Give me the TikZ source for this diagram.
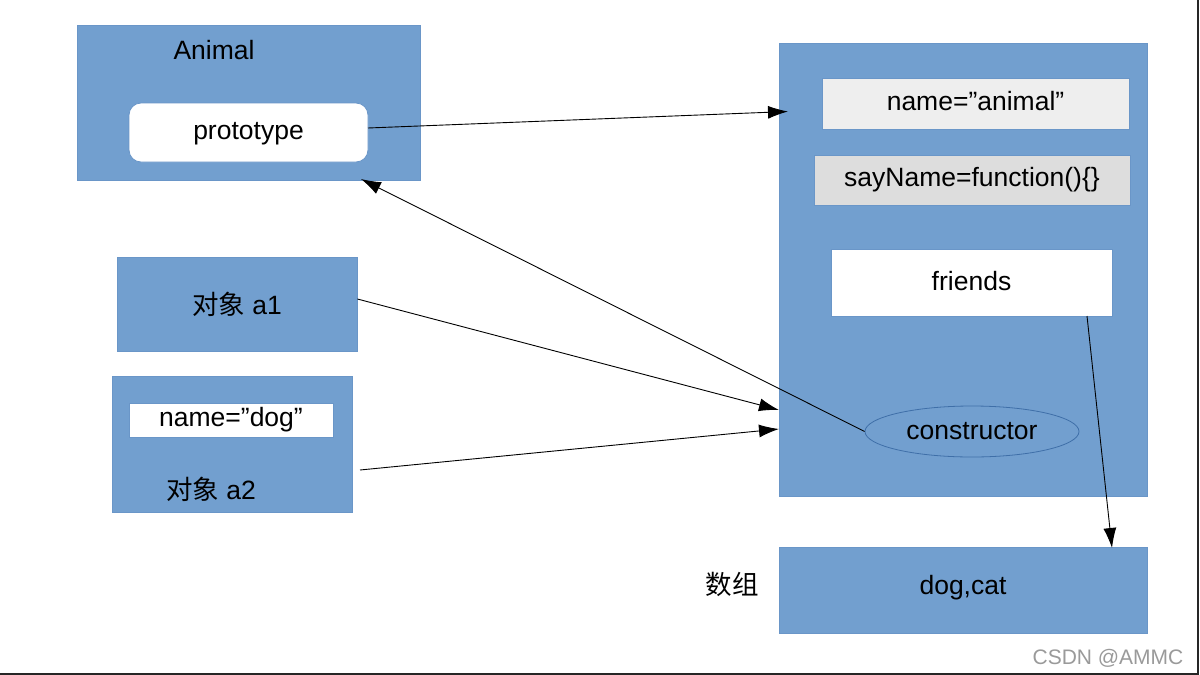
\documentclass[tikz,border=0pt]{standalone}
\usepackage{fontspec}
\setmainfont{Liberation Sans}
\newfontfamily\cjk{Noto Sans CJK SC}
\usetikzlibrary{shapes.geometric,arrows.meta}
\definecolor{boxblue}{HTML}{729FCF}
\definecolor{boxedge}{HTML}{6A96C8}
\definecolor{elledge}{HTML}{3F6FA8}
\definecolor{lightgray}{HTML}{EEEEEE}
\definecolor{midgray}{HTML}{DDDDDD}
\definecolor{wm}{HTML}{9A9A9A}
\tikzset{
  bluebox/.style={rectangle, fill=boxblue, draw=boxedge, line width=0.8pt, inner sep=0pt},
  innerbox/.style={rectangle, draw=boxedge, line width=0.8pt, inner sep=0pt},
  txt/.style={font=\fontsize{26.5}{30}\selectfont, text=black},
  arr/.style={-{Latex[length=20pt,width=13pt]}, line width=0.9pt, black},
}
\newcommand{\zh}[1]{{\cjk #1}}
\begin{document}
\begin{tikzpicture}[x=1pt,y=-1pt]
\useasboundingbox (0,0) rectangle (1200,675);
\fill[white] (0,0) rectangle (1200,675);
% frame lines
\draw[line width=2pt, black!85] (0,673.5) -- (1197.5,673.5) -- (1197.5,0);

% Animal
\node[bluebox, minimum width=343pt, minimum height=155pt] (animal) at (248.5,102.5) {};
\node[txt] (animallbl) at (214,50) {Animal};
\node[rectangle, rounded corners=12pt, fill=white, draw=boxedge, line width=0.8pt, minimum width=239pt, minimum height=59pt, inner sep=0pt] (proto) at (248.5,132.5) {};
\node[txt] (protolbl) at (248.5,134) {prototype};

% prototype object
\node[bluebox, minimum width=368pt, minimum height=453pt] (protoobj) at (963,269.5) {};
\node[innerbox, fill=lightgray, minimum width=307pt, minimum height=51pt] (nameanimal) at (975.5,103.5) {};
\node[txt] (nameanimallbl) at (975.5,101.5) {name=”animal”};
\node[innerbox, fill=midgray, minimum width=316pt, minimum height=50pt, txt] (sayname) at (972,180) {sayName=function()\{\}};
\node[innerbox, fill=white, minimum width=281pt, minimum height=67pt] (friends) at (971.5,282.5) {};
\node[txt] (friendslbl) at (971.5,281) {friends};
\node[ellipse, draw=elledge, line width=0.8pt, fill=boxblue, minimum width=214pt, minimum height=51pt, inner sep=0pt, txt] (ctor) at (972,431.5) {constructor};

% a1
\node[bluebox, minimum width=240pt, minimum height=94pt, txt] (a1) at (237,304) {\zh{对象} a1};

% a2
\node[bluebox, minimum width=240pt, minimum height=136pt] (a2) at (232,444) {};
\node[innerbox, fill=white, minimum width=204pt, minimum height=34pt, txt] (namedog) at (231,420) {name=”dog”};
\node[txt] (a2lbl) at (211,489) {\zh{对象} a2};

% array
\node[bluebox, minimum width=368pt, minimum height=86pt] (arr) at (963,590) {};
\node[txt] (arrtxt) at (963,588) {dog,cat};
\node[txt] (arrlbl) at (732,584) {\zh{数组}};

% watermark
\node[font=\fontsize{21}{24}\selectfont, text=wm] (wmk) at (1108,658) {CSDN @AMMC};

% connectors
\coordinate (t1) at (788,111.5);
\coordinate (t2) at (361,179);
\coordinate (t3) at (779,410);
\coordinate (t4) at (779,429);
\coordinate (s1) at (368,128);
\coordinate (s4) at (360,470);
\coordinate (s5) at (1087,316);
\coordinate (t5) at (1112,548);
\draw[arr] (s1) -- (t1);
\draw[arr] (ctor.west) -- (t2);
\draw[arr] ([yshift=5pt]a1.east) -- (t3);
\draw[arr] (s4) -- (t4);
\draw[arr] (s5) -- (t5);
\end{tikzpicture}
\end{document}
